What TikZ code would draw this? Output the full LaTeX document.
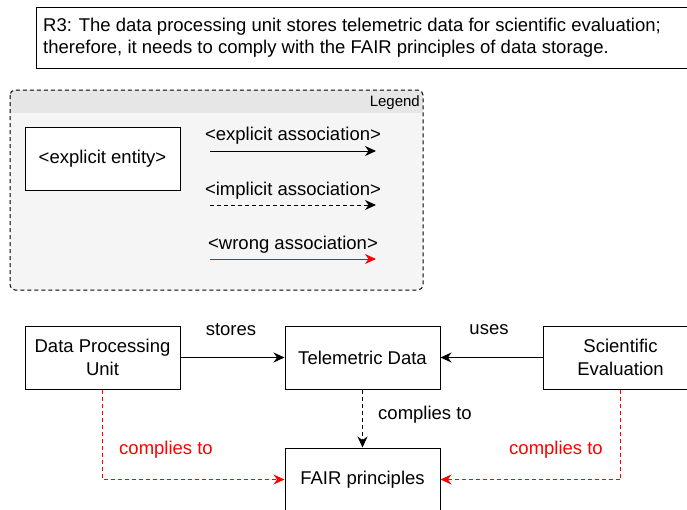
\documentclass[tikz,border=0pt]{standalone}
\usepackage{fontspec}
\setmainfont{Liberation Sans}
\usetikzlibrary{arrows.meta}
\definecolor{legfill}{HTML}{F5F5F5}
\definecolor{leghead}{HTML}{E6E6E6}
\definecolor{wrongred}{HTML}{FF0000}
\tikzset{
  txt/.style={font=\fontsize{18.5}{22.5}\selectfont},
  entity/.style={draw=black, fill=white, line width=1pt, txt, align=center, minimum width=155pt, minimum height=63pt, inner sep=2pt},
  conn/.style={line width=1pt, -{Stealth[length=11pt,width=10pt]}},
  implicit/.style={conn, dash pattern=on 4pt off 3pt},
  wrong/.style={conn, draw=wrongred, dash pattern=on 4pt off 3pt},
  wrongsolid/.style={conn, draw=wrongred},
  lbl/.style={txt, inner sep=0pt},
}
\begin{document}
\begin{tikzpicture}[x=1pt,y=-1pt]
\useasboundingbox (0,0) rectangle (687,509);
\clip (0,0) rectangle (687,509);
% requirement box
\node[draw=black, line width=1pt, anchor=north west, minimum width=670pt, minimum height=61pt, inner sep=0pt] (req) at (36,7) {};
\node[lbl, anchor=north west, align=left] (reqtext) at (43,17.5) {R3: The data processing unit stores telemetric data for scientific evaluation;\\therefore, it needs to comply with the FAIR principles of data storage.};
% legend
\begin{scope}
  \clip[rounded corners=5pt] (10,90) rectangle (423,290);
  \fill[legfill] (10,90) rectangle (423,290);
  \fill[leghead] (10,90) rectangle (423,113);
\end{scope}
\draw[rounded corners=5pt, line width=1pt, dash pattern=on 4pt off 3pt] (10,90) rectangle (423,290);
\node[font=\fontsize{15}{18}\selectfont, anchor=east, inner sep=0pt] (legtitle) at (420,102.5) {Legend};
\node[entity] (legent) at (102.5,158.5) {<explicit entity>};
\coordinate (la1) at (210,151); \coordinate (lb1) at (376,151);
\coordinate (la2) at (210,205); \coordinate (lb2) at (376,205);
\coordinate (la3) at (210,259); \coordinate (lb3) at (376,259);
\draw[conn] (la1) -- (lb1);
\draw[implicit] (la2) -- (lb2);
\draw[wrongsolid] (la3) -- (lb3);
\node[lbl] (ll1) at (293,135.5) {<explicit association>};
\node[lbl] (ll2) at (293,190.5) {<implicit association>};
\node[lbl] (ll3) at (293,244.5) {<wrong association>};
% main diagram
\node[entity] (dpu) at (102.5,357.5) {Data Processing\\Unit};
\node[entity] (tel) at (362.5,357.5) {Telemetric Data};
\node[entity] (sci) at (620.5,357.5) {Scientific\\Evaluation};
\node[entity] (fair) at (362.5,479.5) {FAIR principles};
\draw[conn] (dpu) -- (tel);
\draw[conn] (sci) -- (tel);
\draw[implicit] (tel) -- (fair);
\draw[wrong] (dpu.south) |- (fair.west);
\draw[wrong] (sci.south) |- (fair.east);
\node[lbl] (stores) at (231,329.5) {stores};
\node[lbl] (uses) at (489,329.5) {uses};
\node[lbl] (comp) at (425,414.5) {complies to};
\node[lbl, text=wrongred] (compl) at (166,449.5) {complies to};
\node[lbl, text=wrongred] (compr) at (556,449.5) {complies to};
\end{tikzpicture}
\end{document}
